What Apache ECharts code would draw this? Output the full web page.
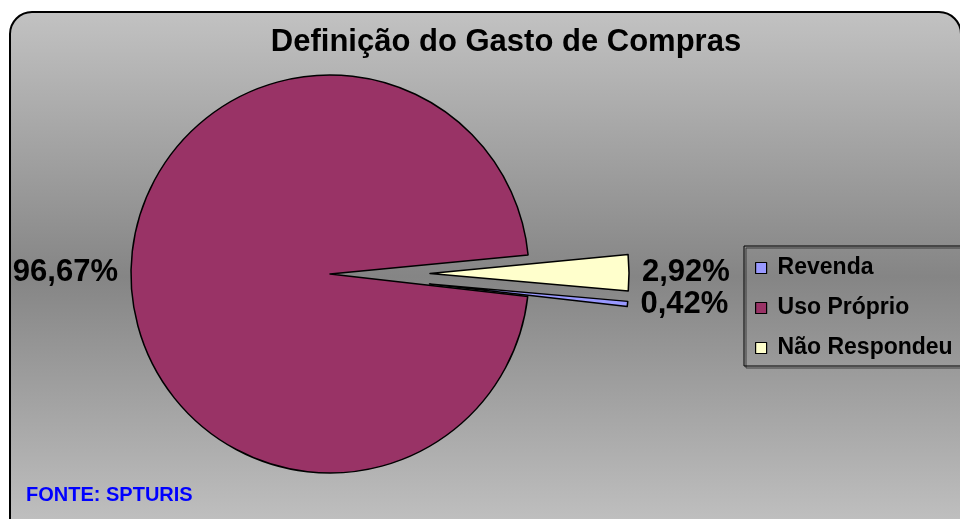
<!DOCTYPE html>
<html>
<head>
<meta charset="utf-8">
<script src="https://cdn.jsdelivr.net/npm/echarts@6/dist/echarts.min.js"></script>
<style>
  html, body { margin: 0; padding: 0; background: #ffffff; }
  #main-chart { width: 960px; height: 519px; }
</style>
</head>
<body>
<div id="main-chart"></div>
<script>
// Chart data
var categories = ['Revenda', 'Uso Próprio', 'Não Respondeu'];
var values = [0.42, 96.67, 2.92];
var valueLabels = ['0,42%', '96,67%', '2,92%'];
var exploded = [true, false, true];
var colors = ['#9999ff', '#993366', '#ffffcc'];

document.addEventListener('DOMContentLoaded', function () {
    var myChart = echarts.init(document.getElementById('main-chart'));

    var pieData = categories.map(function (name, i) {
        return {
            name: name,
            value: values[i],
            selected: exploded[i],
            itemStyle: { color: colors[i] },
            label: { formatter: valueLabels[i] }
        };
    });

    var option = {
        animation: false,
        graphic: [{
            type: 'rect',
            z: -10,
            shape: { x: 10, y: 12, width: 951, height: 530, r: 22 },
            style: {
                fill: new echarts.graphic.LinearGradient(0, 0, 0, 1, [
                    { offset: 0, color: '#c2c2c2' },
                    { offset: 0.5, color: '#858585' },
                    { offset: 1, color: '#c4c4c4' }
                ]),
                stroke: '#000000',
                lineWidth: 2
            }
        }, {
            type: 'text',
            left: 26,
            top: 485,
            style: {
                text: 'FONTE: SPTURIS',
                fill: '#0000ff',
                font: 'bold 20px "Liberation Sans", Arial, sans-serif'
            }
        }],
        title: {
            text: 'Definição do Gasto de Compras',
            left: 501,
            textAlign: 'center',
            top: 22,
            textStyle: {
                fontFamily: '"Liberation Sans", Arial, sans-serif',
                fontWeight: 'bold',
                fontSize: 31,
                color: '#000000'
            }
        },
        legend: {
            orient: 'vertical',
            left: 744,
            top: 246,
            data: categories,
            icon: 'rect',
            itemWidth: 11,
            itemHeight: 11,
            itemGap: 16,
            padding: [10, 60, 6, 11],
            borderColor: '#000000',
            borderWidth: 1,
            shadowColor: 'rgba(40,40,40,0.8)',
            shadowOffsetX: 2,
            shadowOffsetY: 2,
            selectedMode: false,
            itemStyle: { borderColor: '#000000', borderWidth: 1.2 },
            textStyle: {
                fontFamily: '"Liberation Sans", Arial, sans-serif',
                fontWeight: 'bold',
                fontSize: 23,
                lineHeight: 24,
                color: '#000000',
                padding: [0, 0, 0, 6]
            }
        },
        series: [{
            name: 'Definição do Gasto de Compras',
            type: 'pie',
            center: [330, 274],
            radius: [0, 199],
            startAngle: -5,
            clockwise: true,
            selectedMode: 'multiple',
            selectedOffset: 100,
            avoidLabelOverlap: false,
            labelLayout: { hideOverlap: false },
            itemStyle: { borderColor: '#000000', borderWidth: 1.5 },
            emphasis: { disabled: true },
            label: {
                show: true,
                position: 'outside',
                distanceToLabelLine: 13,
                fontFamily: '"Liberation Sans", Arial, sans-serif',
                fontWeight: 'bold',
                fontSize: 31,
                lineHeight: 28,
                color: '#000000'
            },
            labelLine: { show: false, length: 0, length2: 0 },
            data: pieData
        }]
    };

    myChart.setOption(option);
});
</script>
</body>
</html>
